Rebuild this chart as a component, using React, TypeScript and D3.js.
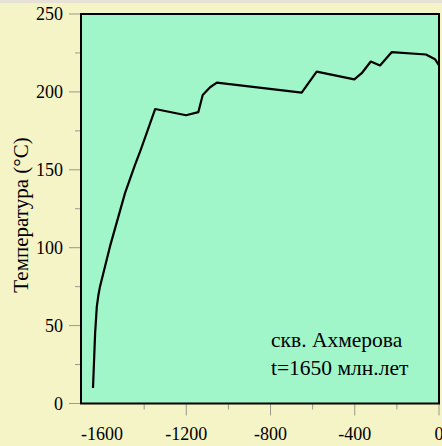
import React from "react";
import * as d3 from "d3";

// Time before present (Ma) and modelled temperature (°C)
const ageMa: number[] = [
  -1643, -1633, -1625, -1618, -1610, -1562, -1491, -1444, -1416, -1348,
  -1201, -1143, -1122, -1087, -1055, -652, -581, -402, -367, -324,
  -280, -225, -62, -19, 0,
];
const temperatureC: number[] = [
  10, 45, 62, 69, 75, 101, 135, 153, 163, 189,
  185, 187, 198, 203, 206, 199.5, 213, 208, 212, 219.5,
  217, 225.5, 224, 221, 217,
];

const xLabelTicks: number[] = [-1600, -1200, -800, -400, 0];
const xMarkTicks: number[] = [-1400, -1200, -1000, -800, -600, -400, -200, 0];
const yMajorTicks: number[] = [0, 50, 100, 150, 200, 250];
const yMinorTicks: number[] = [25, 75, 125, 175, 225];

const yAxisTitle = "Температура (°C)";
const noteLines: string[] = ["скв. Ахмерова", "t=1650 млн.лет"];

const W = 442;
const H = 446;
const left = 81;
const right = 439;
const top = 14;
const bottom = 403.5;

export default function App() {
  const x = d3.scaleLinear().domain([-1700, 0]).range([left, right]);
  const y = d3.scaleLinear().domain([0, 250]).range([bottom, top]);

  const pts: [number, number][] = ageMa.map((a, i) => [a, temperatureC[i]]);
  const line = d3
    .line<[number, number]>()
    .x((d) => x(d[0]))
    .y((d) => y(d[1]))
    .curve(d3.curveLinear);

  const serif = "'Liberation Serif', 'DejaVu Serif', serif";
  const tickColor = "#9a9a88";

  return (
    <svg
      width={W}
      height={H}
      style={{ position: "absolute", left: 0, top: 0, display: "block" }}
    >
      <rect x={0} y={0} width={W} height={H} fill="#f4f4c7" />
      <rect x={0} y={0} width={W} height={3} fill="#e6e3d6" />

      {/* plot area */}
      <rect x={left} y={top} width={right - left} height={bottom - top} fill="#a0f6c8" />

      {/* y ticks */}
      {yMajorTicks.map((t) => (
        <line key={"ym" + t} x1={left - 12} x2={left} y1={y(t)} y2={y(t)} stroke={tickColor} strokeWidth={1} />
      ))}
      {yMinorTicks.map((t) => (
        <line key={"yn" + t} x1={left - 6} x2={left} y1={y(t)} y2={y(t)} stroke={tickColor} strokeWidth={1} />
      ))}
      {yMajorTicks.map((t) => (
        <text
          key={"yl" + t}
          x={63}
          y={y(t)}
          dy="0.35em"
          textAnchor="end"
          fontFamily={serif}
          fontSize={18}
          fill="#000"
        >
          {t}
        </text>
      ))}

      {/* x ticks */}
      {xMarkTicks.map((t) => (
        <line
          key={"xm" + t}
          x1={x(t)}
          x2={x(t)}
          y1={bottom}
          y2={bottom + (t % 400 === 0 ? 12 : 6)}
          stroke={tickColor}
          strokeWidth={1}
        />
      ))}
      {xLabelTicks.map((t) => (
        <text
          key={"xl" + t}
          x={x(t)}
          y={440}
          textAnchor="middle"
          fontFamily={serif}
          fontSize={18}
          fill="#000"
        >
          {t}
        </text>
      ))}

      {/* temperature history */}
      <path d={line(pts) ?? ""} fill="none" stroke="#000" strokeWidth={2.2} strokeLinejoin="round" />

      {/* frame */}
      <rect
        x={left}
        y={top}
        width={right - left}
        height={bottom - top}
        fill="none"
        stroke="#000"
        strokeWidth={2}
      />

      {/* y axis title */}
      <text
        transform={`translate(27.5, 215) rotate(-90)`}
        textAnchor="middle"
        fontFamily={serif}
        fontSize={21}
        fill="#000"
      >
        {yAxisTitle}
      </text>

      {/* well annotation */}
      {noteLines.map((s, i) => (
        <text key={"n" + i} x={271} y={347 + i * 28} fontFamily={serif} fontSize={21.5} fill="#000">
          {s}
        </text>
      ))}
    </svg>
  );
}
